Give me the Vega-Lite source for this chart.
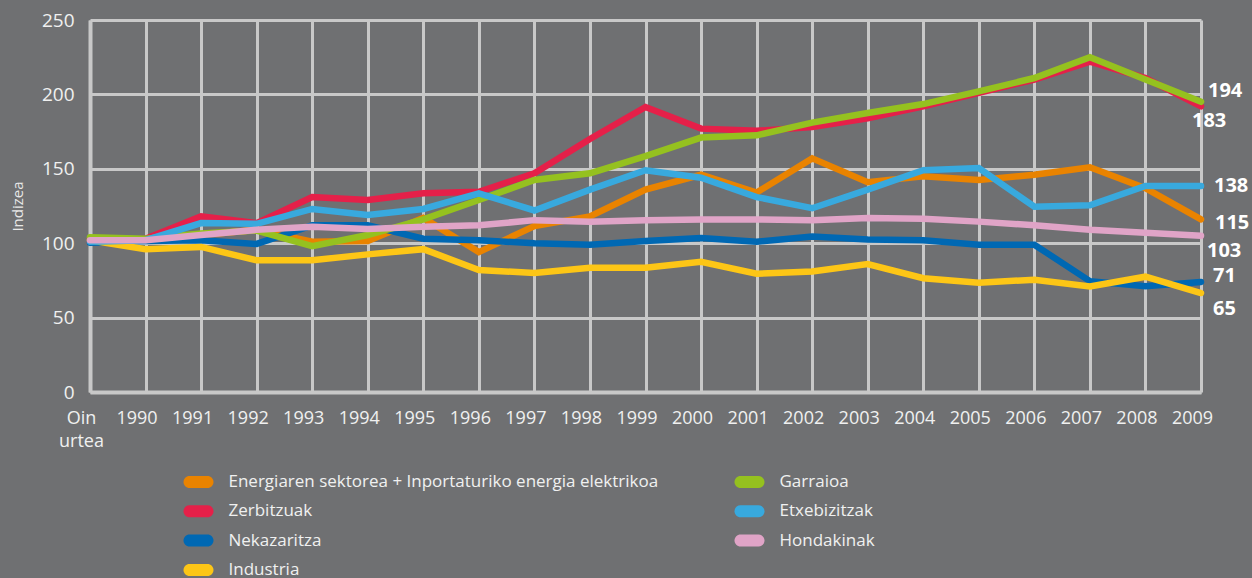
{
  "$schema": "https://vega.github.io/schema/vega-lite/v6.json",
  "width": 1111,
  "height": 372,
  "autosize": {"type": "none"},
  "padding": {"left": 90, "top": 20, "right": 51, "bottom": 186},
  "background": "#6f7072",
  "config": {
    "view": {"stroke": null},
    "font": "Open Sans"
  },
  "data": {
    "values": [
      {"series": "Zerbitzuak", "year": "Oin urtea", "value": 101},
      {"series": "Zerbitzuak", "year": "1990", "value": 103},
      {"series": "Zerbitzuak", "year": "1991", "value": 118},
      {"series": "Zerbitzuak", "year": "1992", "value": 113.5},
      {"series": "Zerbitzuak", "year": "1993", "value": 131},
      {"series": "Zerbitzuak", "year": "1994", "value": 129},
      {"series": "Zerbitzuak", "year": "1995", "value": 133.5},
      {"series": "Zerbitzuak", "year": "1996", "value": 134.5},
      {"series": "Zerbitzuak", "year": "1997", "value": 147},
      {"series": "Zerbitzuak", "year": "1998", "value": 170},
      {"series": "Zerbitzuak", "year": "1999", "value": 191.5},
      {"series": "Zerbitzuak", "year": "2000", "value": 177},
      {"series": "Zerbitzuak", "year": "2001", "value": 175.5},
      {"series": "Zerbitzuak", "year": "2002", "value": 178},
      {"series": "Zerbitzuak", "year": "2003", "value": 184},
      {"series": "Zerbitzuak", "year": "2004", "value": 192},
      {"series": "Zerbitzuak", "year": "2005", "value": 201},
      {"series": "Zerbitzuak", "year": "2006", "value": 210},
      {"series": "Zerbitzuak", "year": "2007", "value": 222},
      {"series": "Zerbitzuak", "year": "2008", "value": 211},
      {"series": "Zerbitzuak", "year": "2009", "value": 192, "label": "183"},
      {"series": "Energiaren sektorea + Inportaturiko energia elektrikoa", "year": "Oin urtea", "value": 103},
      {"series": "Energiaren sektorea + Inportaturiko energia elektrikoa", "year": "1990", "value": 102},
      {"series": "Energiaren sektorea + Inportaturiko energia elektrikoa", "year": "1991", "value": 105.5},
      {"series": "Energiaren sektorea + Inportaturiko energia elektrikoa", "year": "1992", "value": 109},
      {"series": "Energiaren sektorea + Inportaturiko energia elektrikoa", "year": "1993", "value": 101},
      {"series": "Energiaren sektorea + Inportaturiko energia elektrikoa", "year": "1994", "value": 101.5},
      {"series": "Energiaren sektorea + Inportaturiko energia elektrikoa", "year": "1995", "value": 117},
      {"series": "Energiaren sektorea + Inportaturiko energia elektrikoa", "year": "1996", "value": 94},
      {"series": "Energiaren sektorea + Inportaturiko energia elektrikoa", "year": "1997", "value": 111.5},
      {"series": "Energiaren sektorea + Inportaturiko energia elektrikoa", "year": "1998", "value": 118},
      {"series": "Energiaren sektorea + Inportaturiko energia elektrikoa", "year": "1999", "value": 136},
      {"series": "Energiaren sektorea + Inportaturiko energia elektrikoa", "year": "2000", "value": 146},
      {"series": "Energiaren sektorea + Inportaturiko energia elektrikoa", "year": "2001", "value": 134},
      {"series": "Energiaren sektorea + Inportaturiko energia elektrikoa", "year": "2002", "value": 157},
      {"series": "Energiaren sektorea + Inportaturiko energia elektrikoa", "year": "2003", "value": 141},
      {"series": "Energiaren sektorea + Inportaturiko energia elektrikoa", "year": "2004", "value": 145},
      {"series": "Energiaren sektorea + Inportaturiko energia elektrikoa", "year": "2005", "value": 142.5},
      {"series": "Energiaren sektorea + Inportaturiko energia elektrikoa", "year": "2006", "value": 146},
      {"series": "Energiaren sektorea + Inportaturiko energia elektrikoa", "year": "2007", "value": 151},
      {"series": "Energiaren sektorea + Inportaturiko energia elektrikoa", "year": "2008", "value": 137},
      {"series": "Energiaren sektorea + Inportaturiko energia elektrikoa", "year": "2009", "value": 116, "label": "115"},
      {"series": "Nekazaritza", "year": "Oin urtea", "value": 100.3},
      {"series": "Nekazaritza", "year": "1990", "value": 101.5},
      {"series": "Nekazaritza", "year": "1991", "value": 102},
      {"series": "Nekazaritza", "year": "1992", "value": 99.5},
      {"series": "Nekazaritza", "year": "1993", "value": 112},
      {"series": "Nekazaritza", "year": "1994", "value": 112},
      {"series": "Nekazaritza", "year": "1995", "value": 103},
      {"series": "Nekazaritza", "year": "1996", "value": 102},
      {"series": "Nekazaritza", "year": "1997", "value": 100},
      {"series": "Nekazaritza", "year": "1998", "value": 99},
      {"series": "Nekazaritza", "year": "1999", "value": 101.5},
      {"series": "Nekazaritza", "year": "2000", "value": 103.5},
      {"series": "Nekazaritza", "year": "2001", "value": 101},
      {"series": "Nekazaritza", "year": "2002", "value": 104.5},
      {"series": "Nekazaritza", "year": "2003", "value": 102.5},
      {"series": "Nekazaritza", "year": "2004", "value": 102},
      {"series": "Nekazaritza", "year": "2005", "value": 99},
      {"series": "Nekazaritza", "year": "2006", "value": 99},
      {"series": "Nekazaritza", "year": "2007", "value": 74.5},
      {"series": "Nekazaritza", "year": "2008", "value": 71},
      {"series": "Nekazaritza", "year": "2009", "value": 74, "label": "71"},
      {"series": "Industria", "year": "Oin urtea", "value": 102},
      {"series": "Industria", "year": "1990", "value": 96},
      {"series": "Industria", "year": "1991", "value": 97.5},
      {"series": "Industria", "year": "1992", "value": 88.5},
      {"series": "Industria", "year": "1993", "value": 88.5},
      {"series": "Industria", "year": "1994", "value": 92.5},
      {"series": "Industria", "year": "1995", "value": 96},
      {"series": "Industria", "year": "1996", "value": 82},
      {"series": "Industria", "year": "1997", "value": 80},
      {"series": "Industria", "year": "1998", "value": 83.5},
      {"series": "Industria", "year": "1999", "value": 83.5},
      {"series": "Industria", "year": "2000", "value": 87.5},
      {"series": "Industria", "year": "2001", "value": 79.5},
      {"series": "Industria", "year": "2002", "value": 81},
      {"series": "Industria", "year": "2003", "value": 86},
      {"series": "Industria", "year": "2004", "value": 76.5},
      {"series": "Industria", "year": "2005", "value": 73.5},
      {"series": "Industria", "year": "2006", "value": 75.5},
      {"series": "Industria", "year": "2007", "value": 71},
      {"series": "Industria", "year": "2008", "value": 77.5},
      {"series": "Industria", "year": "2009", "value": 66.5, "label": "65"},
      {"series": "Garraioa", "year": "Oin urtea", "value": 104},
      {"series": "Garraioa", "year": "1990", "value": 103},
      {"series": "Garraioa", "year": "1991", "value": 106.5},
      {"series": "Garraioa", "year": "1992", "value": 108.5},
      {"series": "Garraioa", "year": "1993", "value": 98},
      {"series": "Garraioa", "year": "1994", "value": 105.5},
      {"series": "Garraioa", "year": "1995", "value": 116},
      {"series": "Garraioa", "year": "1996", "value": 129},
      {"series": "Garraioa", "year": "1997", "value": 142.5},
      {"series": "Garraioa", "year": "1998", "value": 147},
      {"series": "Garraioa", "year": "1999", "value": 158.5},
      {"series": "Garraioa", "year": "2000", "value": 171},
      {"series": "Garraioa", "year": "2001", "value": 172.5},
      {"series": "Garraioa", "year": "2002", "value": 181},
      {"series": "Garraioa", "year": "2003", "value": 187.5},
      {"series": "Garraioa", "year": "2004", "value": 193.5},
      {"series": "Garraioa", "year": "2005", "value": 202},
      {"series": "Garraioa", "year": "2006", "value": 211},
      {"series": "Garraioa", "year": "2007", "value": 225},
      {"series": "Garraioa", "year": "2008", "value": 210},
      {"series": "Garraioa", "year": "2009", "value": 195, "label": "194"},
      {"series": "Etxebizitzak", "year": "Oin urtea", "value": 101},
      {"series": "Etxebizitzak", "year": "1990", "value": 102},
      {"series": "Etxebizitzak", "year": "1991", "value": 113.5},
      {"series": "Etxebizitzak", "year": "1992", "value": 113},
      {"series": "Etxebizitzak", "year": "1993", "value": 123},
      {"series": "Etxebizitzak", "year": "1994", "value": 119},
      {"series": "Etxebizitzak", "year": "1995", "value": 123},
      {"series": "Etxebizitzak", "year": "1996", "value": 133.5},
      {"series": "Etxebizitzak", "year": "1997", "value": 122},
      {"series": "Etxebizitzak", "year": "1998", "value": 136},
      {"series": "Etxebizitzak", "year": "1999", "value": 149},
      {"series": "Etxebizitzak", "year": "2000", "value": 144},
      {"series": "Etxebizitzak", "year": "2001", "value": 131},
      {"series": "Etxebizitzak", "year": "2002", "value": 123.5},
      {"series": "Etxebizitzak", "year": "2003", "value": 136},
      {"series": "Etxebizitzak", "year": "2004", "value": 149},
      {"series": "Etxebizitzak", "year": "2005", "value": 150.5},
      {"series": "Etxebizitzak", "year": "2006", "value": 124.5},
      {"series": "Etxebizitzak", "year": "2007", "value": 125.5},
      {"series": "Etxebizitzak", "year": "2008", "value": 138.5},
      {"series": "Etxebizitzak", "year": "2009", "value": 138.5, "label": "138"},
      {"series": "Hondakinak", "year": "Oin urtea", "value": 102},
      {"series": "Hondakinak", "year": "1990", "value": 102},
      {"series": "Hondakinak", "year": "1991", "value": 105.5},
      {"series": "Hondakinak", "year": "1992", "value": 109},
      {"series": "Hondakinak", "year": "1993", "value": 111},
      {"series": "Hondakinak", "year": "1994", "value": 109.5},
      {"series": "Hondakinak", "year": "1995", "value": 111},
      {"series": "Hondakinak", "year": "1996", "value": 112},
      {"series": "Hondakinak", "year": "1997", "value": 115.5},
      {"series": "Hondakinak", "year": "1998", "value": 114.5},
      {"series": "Hondakinak", "year": "1999", "value": 115.5},
      {"series": "Hondakinak", "year": "2000", "value": 116},
      {"series": "Hondakinak", "year": "2001", "value": 116},
      {"series": "Hondakinak", "year": "2002", "value": 115.5},
      {"series": "Hondakinak", "year": "2003", "value": 117},
      {"series": "Hondakinak", "year": "2004", "value": 116.5},
      {"series": "Hondakinak", "year": "2005", "value": 114.5},
      {"series": "Hondakinak", "year": "2006", "value": 112},
      {"series": "Hondakinak", "year": "2007", "value": 109},
      {"series": "Hondakinak", "year": "2008", "value": 107},
      {"series": "Hondakinak", "year": "2009", "value": 105, "label": "103"}
    ]
  },
  "encoding": {
    "x": {
      "field": "year",
      "type": "ordinal",
      "sort": null,
      "scale": {"type": "point", "padding": 0},
      "axis": {
        "title": null,
        "labelAngle": 0,
        "labelColor": "#f0f0f0",
        "labelFont": "Open Sans",
        "labelFontSize": 18,
        "labelPadding": 17,
        "labelOffset": -9,
        "labelLineHeight": 23,
        "labelExpr": "split(datum.label, ' ')",
        "ticks": false,
        "domain": true,
        "domainColor": "#c8c8c8",
        "domainWidth": 4,
        "grid": true,
        "gridColor": "#c8c8c8",
        "gridWidth": 3,
        "gridOpacity": 1
      }
    },
    "y": {
      "field": "value",
      "type": "quantitative",
      "scale": {"domain": [0, 250], "nice": false},
      "axis": {
        "values": [0, 50, 100, 150, 200, 250],
        "title": "Indizea",
        "titleColor": "#e8e8e8",
        "titleFont": "Open Sans",
        "titleFontSize": 15,
        "titleFontWeight": "normal",
        "titlePadding": 16,
        "labelColor": "#f0f0f0",
        "labelFont": "Open Sans",
        "labelFontSize": 19,
        "labelPadding": 16,
        "ticks": false,
        "domain": true,
        "domainColor": "#c8c8c8",
        "domainWidth": 4,
        "grid": true,
        "gridColor": "#c8c8c8",
        "gridWidth": 3,
        "gridOpacity": 1
      }
    }
  },
  "layer": [
    {
      "transform": [{"filter": "datum.year == 'none'"}],
      "mark": {"type": "point", "filled": true, "opacity": 1, "strokeWidth": 0},
      "encoding": {
        "color": {
          "field": "series",
          "type": "nominal",
          "scale": {
            "domain": ["Energiaren sektorea + Inportaturiko energia elektrikoa", "Zerbitzuak", "Nekazaritza", "Industria", "Garraioa", "Etxebizitzak", "Hondakinak"],
            "range": ["#e98300", "#e52049", "#0068b3", "#fdc616", "#95c11f", "#38a9de", "#e0a4c7"]
          },
          "legend": {
            "title": null,
            "orient": "none",
            "legendX": 93.5,
            "legendY": 447,
            "columns": 2,
            "columnPadding": 76,
            "rowPadding": 6.3,
            "padding": 0,
            "symbolType": "M-0.6,-0.4 L0.6,-0.4 A0.4,0.4 0 0 1 0.6,0.4 L-0.6,0.4 A0.4,0.4 0 0 1 -0.6,-0.4 Z",
            "symbolSize": 900,
            "symbolStrokeWidth": 0,
            "symbolOpacity": 1,
            "labelColor": "#f0f0f0",
            "labelFont": "Open Sans",
            "labelFontSize": 17,
            "labelOffset": 15,
            "labelLimit": 0
          }
        }
      }
    },
    {
      "mark": {"type": "line", "strokeWidth": 6.5, "strokeJoin": "miter", "strokeCap": "round"},
      "encoding": {
        "color": {"field": "series", "type": "nominal"}
      }
    },
    {
      "transform": [{"filter": "datum.series == 'Garraioa' && datum.year == '2009'"}],
      "mark": {"type": "text", "align": "left", "baseline": "middle", "dx": 7, "dy": -11, "fontSize": 20, "fontWeight": "bold", "font": "Open Sans", "fill": "#ffffff"},
      "encoding": {"text": {"field": "label"}}
    },
    {
      "transform": [{"filter": "datum.series == 'Zerbitzuak' && datum.year == '2009'"}],
      "mark": {"type": "text", "align": "left", "baseline": "middle", "dx": -9, "dy": 15, "fontSize": 20, "fontWeight": "bold", "font": "Open Sans", "fill": "#ffffff"},
      "encoding": {"text": {"field": "label"}}
    },
    {
      "transform": [{"filter": "datum.series == 'Etxebizitzak' && datum.year == '2009'"}],
      "mark": {"type": "text", "align": "left", "baseline": "middle", "dx": 13, "dy": 0, "fontSize": 20, "fontWeight": "bold", "font": "Open Sans", "fill": "#ffffff"},
      "encoding": {"text": {"field": "label"}}
    },
    {
      "transform": [{"filter": "datum.series == 'Energiaren sektorea + Inportaturiko energia elektrikoa' && datum.year == '2009'"}],
      "mark": {"type": "text", "align": "left", "baseline": "middle", "dx": 14, "dy": 4, "fontSize": 20, "fontWeight": "bold", "font": "Open Sans", "fill": "#ffffff"},
      "encoding": {"text": {"field": "label"}}
    },
    {
      "transform": [{"filter": "datum.series == 'Hondakinak' && datum.year == '2009'"}],
      "mark": {"type": "text", "align": "left", "baseline": "middle", "dx": 6, "dy": 15, "fontSize": 20, "fontWeight": "bold", "font": "Open Sans", "fill": "#ffffff"},
      "encoding": {"text": {"field": "label"}}
    },
    {
      "transform": [{"filter": "datum.series == 'Nekazaritza' && datum.year == '2009'"}],
      "mark": {"type": "text", "align": "left", "baseline": "middle", "dx": 12, "dy": -6, "fontSize": 20, "fontWeight": "bold", "font": "Open Sans", "fill": "#ffffff"},
      "encoding": {"text": {"field": "label"}}
    },
    {
      "transform": [{"filter": "datum.series == 'Industria' && datum.year == '2009'"}],
      "mark": {"type": "text", "align": "left", "baseline": "middle", "dx": 12, "dy": 15.5, "fontSize": 20, "fontWeight": "bold", "font": "Open Sans", "fill": "#ffffff"},
      "encoding": {"text": {"field": "label"}}
    }
  ]
}
